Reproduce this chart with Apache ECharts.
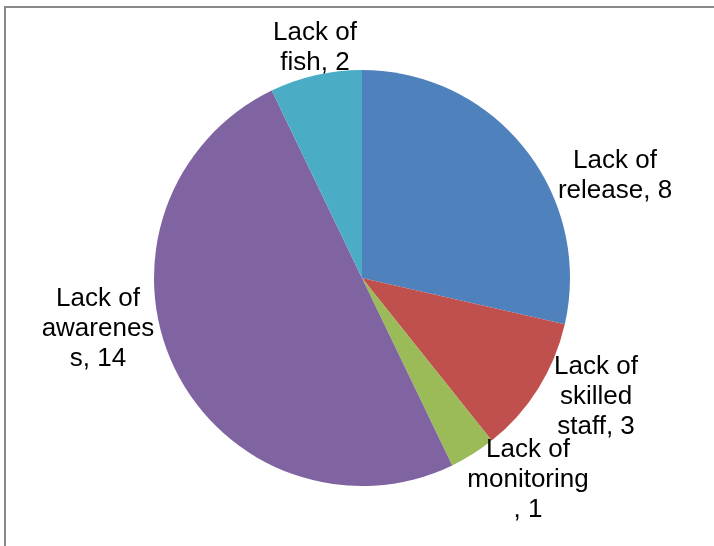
<!DOCTYPE html>
<html>
<head>
<meta charset="utf-8">
<style>
  html, body { margin: 0; padding: 0; background: #ffffff; }
  #chart { width: 714px; height: 546px; }
</style>
<script src="https://cdn.jsdelivr.net/npm/echarts@6/dist/echarts.min.js"></script>
</head>
<body>
<div id="chart"></div>
<script>
// Constraints reported, in clockwise order from 12 o'clock
const categories = ['Lack of release', 'Lack of skilled staff', 'Lack of monitoring', 'Lack of awareness', 'Lack of fish'];
const counts = [8, 3, 1, 14, 2];
// Wrapped label text (value is appended by the formatter)
const labelText = ['Lack of\nrelease', 'Lack of\nskilled\nstaff', 'Lack of\nmonitoring\n', 'Lack of\nawarenes\ns', 'Lack of\nfish'];

const sliceColors = ['#4F81BD', '#C0504D', '#9BBB59', '#8064A2', '#4BACC6'];
// Label anchor points (block centre) in pixels
const labelAnchors = [[615, 176], [596, 397], [528, 480], [98, 329], [315, 48]];

const chart = echarts.init(document.getElementById('chart'), null, { renderer: 'canvas' });

chart.setOption({
  animation: false,
  backgroundColor: '#ffffff',
  graphic: [{
    type: 'rect',
    shape: { x: 5, y: 7, width: 800, height: 800 },
    style: { fill: 'none', stroke: '#898989', lineWidth: 2 },
    silent: true,
    z: 0
  }],
  series: [{
    type: 'pie',
    center: [362, 278],
    radius: 208,
    startAngle: 90,
    clockwise: true,
    avoidLabelOverlap: false,
    itemStyle: { borderWidth: 0 },
    data: categories.map((name, i) => ({
      name: name,
      value: counts[i],
      itemStyle: { color: sliceColors[i] }
    })),
    label: {
      show: true,
      position: 'outside',
      formatter: p => labelText[p.dataIndex] + ', ' + p.value,
      fontFamily: '"Liberation Sans", Arial, sans-serif',
      fontSize: 26,
      lineHeight: 30,
      color: '#000000',
      align: 'center'
    },
    labelLine: { show: false },
    labelLayout: p => ({
      x: labelAnchors[p.dataIndex][0],
      y: labelAnchors[p.dataIndex][1],
      align: 'center',
      verticalAlign: 'middle'
    }),
    emphasis: { disabled: true }
  }]
});
</script>
</body>
</html>
